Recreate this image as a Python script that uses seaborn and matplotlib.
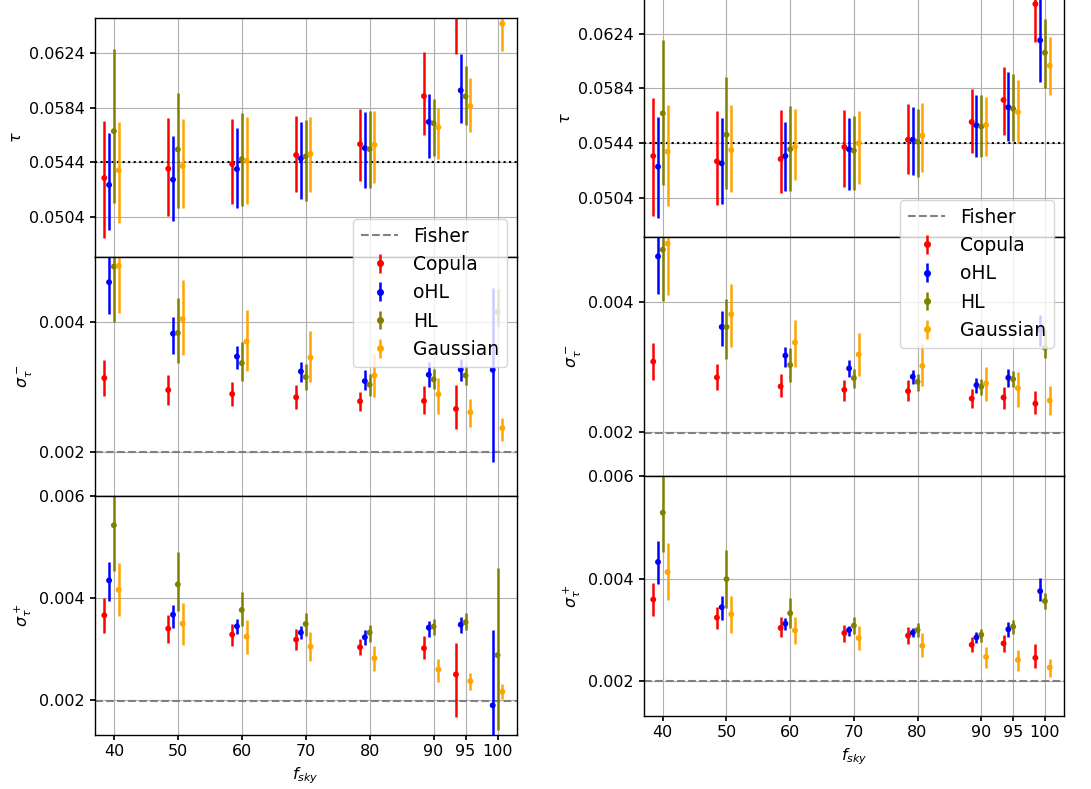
import numpy as np
import pandas as pd
import matplotlib.pyplot as plt
import seaborn as sns

nan = np.nan

fsky = [40, 50, 60, 70, 80, 90, 95, 100]
methods = ["Copula", "oHL", "HL", "Gaussian"]
colors = ["red", "blue", "olive", "orange"]
tau_fid = 0.0544
fisher = 0.00199

# rows = methods (Copula, oHL, HL, Gaussian), columns = fsky
# ---- left column ----
left_tau = [[0.05326, 0.05394, 0.05428, 0.05494, 0.05574, 0.05926, 0.0662, nan],
            [0.05275, 0.05314, 0.05391, 0.05469, 0.05545, 0.05737, 0.05968, nan],
            [0.05669, 0.05535, 0.05464, 0.05484, 0.05537, 0.05727, 0.05924, nan],
            [0.05382, 0.05413, 0.05452, 0.05503, 0.05569, 0.05698, 0.05853, 0.06457]]
left_tau_lo = [[0.04883, 0.05046, 0.05136, 0.05224, 0.05304, 0.05639, 0.06235, nan],
               [0.04944, 0.05012, 0.05102, 0.05172, 0.05255, 0.05472, 0.05727, nan],
               [0.05141, 0.05104, 0.05117, 0.05160, 0.05253, 0.05486, 0.05715, nan],
               [0.04995, 0.05102, 0.05134, 0.05224, 0.05289, 0.05462, 0.05661, 0.06257]]
left_tau_hi = [[0.05742, 0.05766, 0.05761, 0.05778, 0.05834, 0.06247, 0.0700, nan],
               [0.05652, 0.05637, 0.05695, 0.05734, 0.05810, 0.05938, 0.06233, nan],
               [0.06269, 0.05948, 0.05805, 0.05751, 0.05815, 0.05902, 0.06150, nan],
               [0.05737, 0.05761, 0.05773, 0.05773, 0.05819, 0.05839, 0.06058, 0.0665]]

left_sm = [[0.003133, 0.002949, 0.002888, 0.002837, 0.002776, 0.002781, 0.002658, nan],
           [0.004607, 0.003816, 0.003464, 0.003235, 0.003087, 0.003184, 0.003265, 0.003260],
           [0.004847, 0.003827, 0.003362, 0.003148, 0.003031, 0.003112, 0.003173, 0.004153],
           [0.004857, 0.004041, 0.003694, 0.003449, 0.003173, 0.002883, 0.002607, 0.002362]]
left_sm_lo = [[0.002852, 0.002719, 0.002704, 0.002653, 0.002622, 0.002587, 0.002357, nan],
              [0.004112, 0.003510, 0.003270, 0.003066, 0.002944, 0.002995, 0.003087, 0.001847],
              [0.003995, 0.003362, 0.003092, 0.002954, 0.002862, 0.002964, 0.003020, 0.003939],
              [0.004138, 0.003480, 0.003235, 0.003071, 0.002837, 0.002587, 0.002383, 0.002168]]
left_sm_hi = [[0.003413, 0.003173, 0.003071, 0.003026, 0.002913, 0.003005, 0.003020, nan],
              [0.005100, 0.004071, 0.003633, 0.003383, 0.003250, 0.003378, 0.003429, 0.004515],
              [0.005700, 0.004362, 0.003684, 0.003342, 0.003189, 0.003276, 0.003327, 0.004500],
              [0.005600, 0.004638, 0.004184, 0.003862, 0.003505, 0.003133, 0.002811, 0.002526]]

left_sp = [[0.003661, 0.003401, 0.003283, 0.003186, 0.003036, 0.003016, 0.002502, nan],
           [0.004345, 0.003674, 0.003446, 0.003323, 0.003231, 0.003420, 0.003479, 0.001896],
           [0.005427, 0.004267, 0.003766, 0.003492, 0.003323, 0.003440, 0.003524, 0.002880],
           [0.004163, 0.003498, 0.003244, 0.003049, 0.002821, 0.002599, 0.002371, 0.002163]]
left_sp_lo = [[0.003323, 0.003127, 0.003062, 0.002977, 0.002880, 0.002808, 0.001668, nan],
              [0.003935, 0.003420, 0.003290, 0.003199, 0.003075, 0.003238, 0.003310, 0.001100],
              [0.004528, 0.003740, 0.003453, 0.003257, 0.003140, 0.003283, 0.003375, 0.001420],
              [0.003655, 0.003088, 0.002899, 0.002769, 0.002573, 0.002352, 0.002189, 0.002020]]
left_sp_hi = [[0.003994, 0.003661, 0.003492, 0.003401, 0.003205, 0.003251, 0.003127, nan],
              [0.004710, 0.003863, 0.003590, 0.003459, 0.003368, 0.003557, 0.003629, 0.003375],
              [0.006200, 0.004906, 0.004111, 0.003707, 0.003466, 0.003596, 0.003707, 0.004580],
              [0.004678, 0.003902, 0.003577, 0.003342, 0.003062, 0.002795, 0.002528, 0.002319]]

# ---- right column ----
right_tau = [[0.05345, 0.05306, 0.05323, 0.05411, 0.05464, 0.05594, 0.05755, 0.06457],
             [0.05267, 0.05291, 0.05345, 0.05394, 0.05464, 0.05569, 0.05701, 0.06191],
             [0.05657, 0.05501, 0.05394, 0.05384, 0.05450, 0.05560, 0.05691, 0.06101],
             [0.05377, 0.05389, 0.05411, 0.05438, 0.05494, 0.05572, 0.05667, 0.06006]]
right_tau_lo = [[0.04906, 0.04986, 0.05077, 0.05116, 0.05213, 0.05364, 0.05501, 0.06181],
                [0.04889, 0.04991, 0.05086, 0.05099, 0.05206, 0.05338, 0.05457, 0.05886],
                [0.05130, 0.05101, 0.05091, 0.05099, 0.05191, 0.05340, 0.05455, 0.05840],
                [0.04977, 0.05081, 0.05169, 0.05140, 0.05228, 0.05345, 0.05442, 0.05791]]
right_tau_hi = [[0.05767, 0.05672, 0.05681, 0.05679, 0.05723, 0.05833, 0.05996, 0.0670],
                [0.05633, 0.05620, 0.05596, 0.05625, 0.05706, 0.05794, 0.05960, 0.0655],
                [0.06191, 0.05925, 0.05708, 0.05638, 0.05691, 0.05791, 0.05942, 0.06345],
                [0.05720, 0.05716, 0.05689, 0.05672, 0.05735, 0.05777, 0.05899, 0.06218]]

right_sm = [[0.003083, 0.002840, 0.002701, 0.002650, 0.002629, 0.002516, 0.002531, 0.002438],
            [0.004696, 0.003614, 0.003175, 0.002979, 0.002851, 0.002722, 0.002835, 0.003562],
            [0.004799, 0.003614, 0.003031, 0.002830, 0.002773, 0.002696, 0.002814, 0.003294],
            [0.004892, 0.003809, 0.003376, 0.003191, 0.003016, 0.002747, 0.002675, 0.002485]]
right_sm_lo = [[0.002794, 0.002650, 0.002536, 0.002485, 0.002485, 0.002371, 0.002351, 0.002278],
               [0.004114, 0.003315, 0.003005, 0.002845, 0.002742, 0.002593, 0.002696, 0.003315],
               [0.004010, 0.003119, 0.002773, 0.002680, 0.002634, 0.002567, 0.002696, 0.003134],
               [0.004098, 0.003299, 0.003005, 0.002856, 0.002711, 0.002479, 0.002387, 0.002258]]
right_sm_hi = [[0.003366, 0.003046, 0.002892, 0.002794, 0.002794, 0.002660, 0.002691, 0.002629],
               [0.005100, 0.003866, 0.003309, 0.003103, 0.002954, 0.002830, 0.002969, 0.003804],
               [0.005600, 0.004047, 0.003284, 0.002969, 0.002892, 0.002814, 0.002933, 0.003570],
               [0.005500, 0.004279, 0.003727, 0.003526, 0.003366, 0.003005, 0.002923, 0.002711]]

right_sp = [[0.003593, 0.003239, 0.003036, 0.002938, 0.002885, 0.002708, 0.002734, 0.002452],
            [0.004328, 0.003443, 0.003121, 0.002997, 0.002944, 0.002852, 0.003010, 0.003757],
            [0.005292, 0.003993, 0.003325, 0.003082, 0.002997, 0.002905, 0.003062, 0.003561],
            [0.004131, 0.003305, 0.002990, 0.002839, 0.002688, 0.002472, 0.002413, 0.002262]]
right_sp_lo = [[0.003272, 0.003010, 0.002859, 0.002761, 0.002715, 0.002570, 0.002570, 0.002256],
               [0.003888, 0.003200, 0.002990, 0.002879, 0.002852, 0.002734, 0.002866, 0.003561],
               [0.004524, 0.003436, 0.003036, 0.002918, 0.002859, 0.002761, 0.002925, 0.003410],
               [0.003574, 0.002944, 0.002715, 0.002597, 0.002466, 0.002262, 0.002190, 0.002079]]
right_sp_hi = [[0.003908, 0.003456, 0.003252, 0.003095, 0.003062, 0.002866, 0.002898, 0.002721],
               [0.004734, 0.003652, 0.003226, 0.003082, 0.003043, 0.002964, 0.003148, 0.004006],
               [0.006100, 0.004570, 0.003620, 0.003246, 0.003128, 0.003010, 0.003200, 0.003711],
               [0.004695, 0.003652, 0.003246, 0.003082, 0.002944, 0.002656, 0.002603, 0.002426]]

offsets = [-1.5, -0.75, 0.0, 0.75]

sns.set_theme(style="whitegrid", rc={
    "axes.edgecolor": "black", "axes.linewidth": 1.0,
    "grid.color": "#b0b0b0", "grid.linewidth": 0.8,
    "text.color": "black", "axes.labelcolor": "black",
    "xtick.color": "black", "ytick.color": "black",
    "xtick.bottom": True, "ytick.left": True,
    "xtick.major.size": 3.5, "ytick.major.size": 3.5,
    "font.size": 11.5,
})
plt.rcParams["font.family"] = ["DejaVu Sans"]

fig = plt.figure(figsize=(10.91, 7.89), dpi=100)

columns = [
    dict(x0=0.0868, w=0.3868, bottoms=[0.6749, 0.3714, 0.0688], h=0.3025,
         panels=[(left_tau, left_tau_lo, left_tau_hi),
                 (left_sm, left_sm_lo, left_sm_hi),
                 (left_sp, left_sp_lo, left_sp_hi)],
         legend_at=(0.4647, 0.7224)),
    dict(x0=0.5900, w=0.3853, bottoms=[0.6992, 0.3961, 0.0929], h=0.3032,
         panels=[(right_tau, right_tau_lo, right_tau_hi),
                 (right_sm, right_sm_lo, right_sm_hi),
                 (right_sp, right_sp_lo, right_sp_hi)],
         legend_at=(0.9661, 0.7465)),
]

ylabels = [r"$\tau$", r"$\sigma_\tau^-$", r"$\sigma_\tau^+$"]
ylims = [(0.0475, 0.0650), (0.00132, 0.00499), (0.00132, 0.0060)]
yticks = [[0.0504, 0.0544, 0.0584, 0.0624], [0.002, 0.004], [0.002, 0.004, 0.006]]
ytick_labels = [["0.0504", "0.0544", "0.0584", "0.0624"], ["0.002", "0.004"],
                ["0.002", "0.004", "0.006"]]

for col in columns:
    axes = []
    for p, (vals, lo, hi) in enumerate(col["panels"]):
        ax = fig.add_axes([col["x0"], col["bottoms"][p], col["w"], col["h"]])
        axes.append(ax)
        rows = []
        for m, name in enumerate(methods):
            x = np.array(fsky) + offsets[m]
            c = np.array(vals[m])
            err = [c - np.array(lo[m]), np.array(hi[m]) - c]
            ax.errorbar(x, c, yerr=err, fmt="none", ecolor=colors[m],
                        elinewidth=1.8, zorder=2)
            for xi, ci in zip(x, c):
                rows.append({"fsky": xi, "value": ci, "method": name})
        df = pd.DataFrame(rows)
        sns.scatterplot(data=df, x="fsky", y="value", hue="method",
                        palette=dict(zip(methods, colors)), s=18,
                        linewidth=0, legend=False, ax=ax, zorder=3)
        if p == 0:
            ax.axhline(tau_fid, color="black", ls=":", lw=1.5, zorder=1)
        else:
            fisher_line = ax.axhline(fisher, color="gray", ls="--", lw=1.5,
                                     zorder=1, label="Fisher")
        ax.set_xlim(37, 103)
        ax.set_ylim(*ylims[p])
        ax.set_yticks(yticks[p])
        ax.set_yticklabels(ytick_labels[p], fontsize=11.5)
        ax.set_xticks(fsky)
        ax.set_ylabel(ylabels[p], fontsize=11.5)
        ax.grid(True)
        if p < 2:
            ax.set_xticklabels([])
            ax.set_xlabel("")
        else:
            ax.set_xticklabels([str(f) for f in fsky], fontsize=11.5)
            ax.set_xlabel(r"$f_{sky}$", fontsize=11.5)

    # legend proxies in the shape of error bars
    handles = [fisher_line]
    for m, name in enumerate(methods):
        h = axes[1].errorbar([nan], [nan], yerr=[[nan], [nan]], fmt="o", ms=4,
                             color=colors[m], elinewidth=1.8)
        handles.append(h)
    fig.legend(handles, ["Fisher"] + methods, loc="upper right",
               bbox_to_anchor=col["legend_at"], borderaxespad=0,
               fontsize=13.5, frameon=True, framealpha=0.8,
               edgecolor="0.8", facecolor="white")

fig.savefig("out.png", dpi=100)
